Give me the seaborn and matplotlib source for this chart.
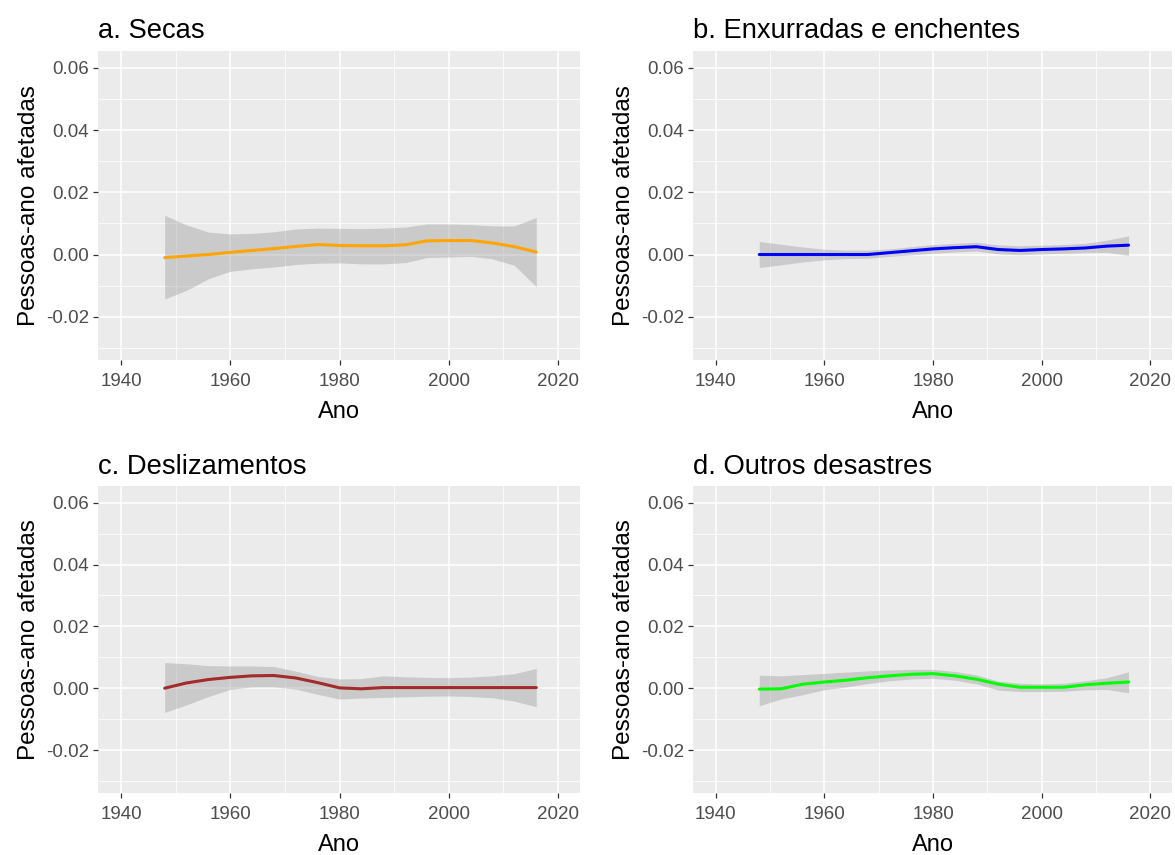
import matplotlib
matplotlib.use("Agg")
import matplotlib.pyplot as plt
import seaborn as sns
import pandas as pd
import numpy as np
from matplotlib.ticker import MultipleLocator

# ---- data ----
years = [1948, 1952, 1956, 1960, 1964, 1968, 1972, 1976, 1980, 1984,
         1988, 1992, 1996, 2000, 2004, 2008, 2012, 2016]

secas_fit = [-0.0010, -0.0005, 0.0000, 0.0007, 0.0013, 0.0019, 0.0026, 0.0032, 0.0029, 0.0028,
             0.0028, 0.0031, 0.0044, 0.0045, 0.0045, 0.0037, 0.0025, 0.0008]
secas_hi = [0.0126, 0.0095, 0.0072, 0.0066, 0.0068, 0.0073, 0.0082, 0.0085, 0.0084, 0.0083,
            0.0085, 0.0088, 0.0098, 0.0098, 0.0096, 0.0092, 0.0092, 0.0119]
secas_lo = [-0.0143, -0.0115, -0.0078, -0.0054, -0.0046, -0.0040, -0.0032, -0.0028, -0.0027, -0.0030,
            -0.0030, -0.0026, -0.0010, -0.0008, -0.0006, -0.0014, -0.0035, -0.0103]

enx_fit = [0.0000, 0.0000, 0.0000, 0.0000, 0.0000, 0.0000, 0.0006, 0.0012, 0.0018, 0.0022,
           0.0025, 0.0016, 0.0013, 0.0016, 0.0018, 0.0021, 0.0027, 0.0030]
enx_hi = [0.0042, 0.0033, 0.0024, 0.0017, 0.0014, 0.0014, 0.0018, 0.0025, 0.0032, 0.0036,
          0.0039, 0.0031, 0.0028, 0.0030, 0.0032, 0.0036, 0.0046, 0.0060]
enx_lo = [-0.0042, -0.0033, -0.0024, -0.0017, -0.0013, -0.0012, -0.0006, -0.0001, 0.0004, 0.0008,
          0.0011, 0.0002, -0.0001, 0.0002, 0.0004, 0.0006, 0.0007, -0.0003]

desl_fit = [0.0000, 0.0017, 0.0028, 0.0035, 0.0040, 0.0041, 0.0033, 0.0018, 0.0001, -0.0002,
            0.0002, 0.0002, 0.0002, 0.0002, 0.0002, 0.0002, 0.0002, 0.0002]
desl_hi = [0.0083, 0.0079, 0.0073, 0.0072, 0.0072, 0.0070, 0.0055, 0.0038, 0.0030, 0.0031,
           0.0040, 0.0037, 0.0035, 0.0034, 0.0036, 0.0040, 0.0047, 0.0064]
desl_lo = [-0.0078, -0.0054, -0.0027, -0.0004, 0.0004, 0.0004, -0.0003, -0.0020, -0.0035, -0.0032,
           -0.0030, -0.0028, -0.0026, -0.0025, -0.0027, -0.0031, -0.0042, -0.0060]

outros_fit = [-0.0003, -0.0002, 0.0013, 0.0020, 0.0026, 0.0034, 0.0040, 0.0045, 0.0047, 0.0040,
              0.0029, 0.0013, 0.0003, 0.0003, 0.0003, 0.0011, 0.0016, 0.0020]
outros_hi = [0.0042, 0.0040, 0.0044, 0.0048, 0.0052, 0.0056, 0.0059, 0.0061, 0.0061, 0.0054,
             0.0043, 0.0023, 0.0016, 0.0014, 0.0016, 0.0024, 0.0034, 0.0053]
outros_lo = [-0.0057, -0.0035, -0.0021, -0.0005, 0.0004, 0.0015, 0.0024, 0.0030, 0.0032, 0.0026,
             0.0014, -0.0006, -0.0011, -0.0011, -0.0010, -0.0005, -0.0004, -0.0015]

titles = ["a. Secas", "b. Enxurradas e enchentes", "c. Deslizamentos", "d. Outros desastres"]
colors = ["orange", "blue", "brown", "#00FF00"]
xlabel = "Ano"
ylabel = "Pessoas-ano afetadas"
xticks = [1940, 1960, 1980, 2000, 2020]
yticks = [-0.02, 0.00, 0.02, 0.04, 0.06]
ytick_labels = ["-0.02", "0.00", "0.02", "0.04", "0.06"]

series = [(secas_fit, secas_lo, secas_hi), (enx_fit, enx_lo, enx_hi),
          (desl_fit, desl_lo, desl_hi), (outros_fit, outros_lo, outros_hi)]

# ---- figure ----
sns.set_theme(style="darkgrid")
plt.rcParams['font.family'] = ['Liberation Sans', 'DejaVu Sans']

W, H = 1175, 855
fig = plt.figure(figsize=(W / 100, H / 100), dpi=100)

# axes boxes in pixels: left, top, right, bottom
boxes = [(98, 51, 580, 360), (693, 51, 1172, 360),
         (98, 486, 580, 793), (693, 486, 1172, 793)]

for i, ((fit, lo, hi), box) in enumerate(zip(series, boxes)):
    l, t, r, b = box
    ax = fig.add_axes([l / W, 1 - b / H, (r - l) / W, (b - t) / H])
    df = pd.DataFrame({"Ano": years, "fit": fit, "lo": lo, "hi": hi})
    ax.set_facecolor("#EBEBEB")
    ax.fill_between(df["Ano"], df["lo"], df["hi"], color="#999999", alpha=0.4,
                    linewidth=0, zorder=2)
    sns.lineplot(data=df, x="Ano", y="fit", ax=ax, color=colors[i], linewidth=2.2,
                 zorder=3)
    ax.set_xlim(1935.8, 2024.0)
    ax.set_ylim(-0.0339, 0.0654)
    ax.set_xticks(xticks)
    ax.set_xticklabels([str(x) for x in xticks])
    ax.set_yticks(yticks)
    ax.set_yticklabels(ytick_labels)
    ax.xaxis.set_minor_locator(MultipleLocator(10))
    ax.yaxis.set_minor_locator(MultipleLocator(0.01))
    ax.grid(which="major", color="white", linewidth=1.1)
    ax.grid(which="minor", color="white", linewidth=0.55)
    ax.set_axisbelow(True)
    for s in ax.spines.values():
        s.set_visible(False)
    ax.tick_params(axis="both", which="major", length=3.5, width=0.9, color="#333333",
                   labelsize=13.5, labelcolor="#4D4D4D", pad=3, bottom=True, left=True)
    ax.tick_params(axis="x", which="major", pad=5.5)
    ax.tick_params(axis="both", which="minor", length=0)
    ax.set_xlabel(xlabel, fontsize=17, color="black", labelpad=8)
    ax.set_ylabel(ylabel, fontsize=17.5, color="black", labelpad=4)
    ax.set_title(titles[i], loc="left", fontsize=19.7, color="black", pad=9)

fig.savefig("out.png", dpi=100, facecolor="white")
